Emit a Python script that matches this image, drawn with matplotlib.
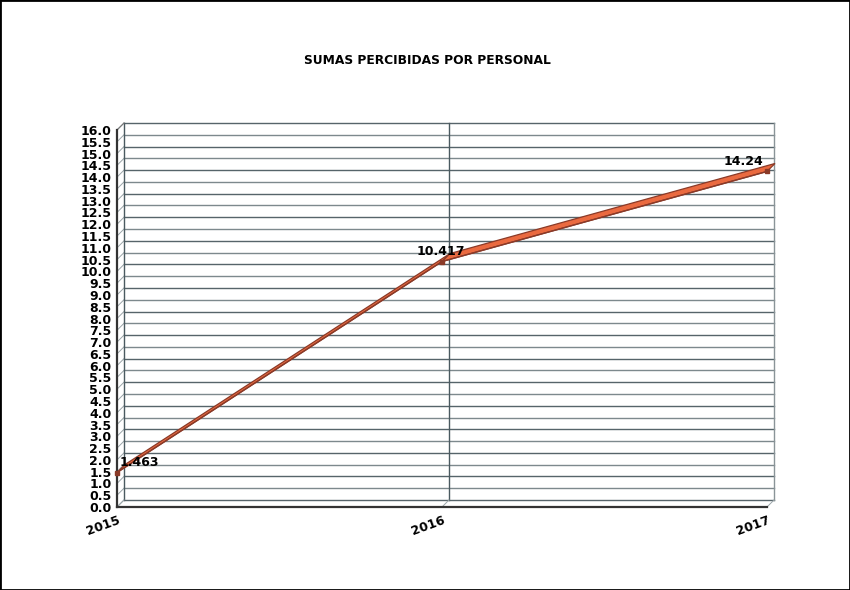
import matplotlib.pyplot as plt
from matplotlib.patches import Rectangle, Polygon

# data
years = [2015, 2016, 2017]
sumas = [1.463, 10.417, 14.24]
etiquetas = ['1.463', '10.417', '14.24']
yticks = [i * 0.5 for i in range(33)]

plt.rcParams['font.family'] = 'DejaVu Sans'
plt.rcParams['font.weight'] = 'bold'

fig = plt.figure(figsize=(8.5, 5.9), dpi=100)
fig.patches.append(Rectangle((0, 0), 1, 1, transform=fig.transFigure,
                             fill=False, ec='black', lw=2))

# front plane of the pseudo 3d box
ax = fig.add_axes([117 / 850, 83 / 590, 650 / 850, 377 / 590])
ax.set_xlim(2015, 2017)
ax.set_ylim(0, 16)
ax.set_facecolor('none')

# depth of the box, in data units (7 px)
dx = 7 / 650 * 2
dy = 7 / 377 * 16
wall = '#4a5a60'

# back wall grid
for i, v in enumerate(yticks):
    c = '#56646a' if i % 2 == 0 else '#7d898d'
    ax.plot([2015 + dx, 2017 + dx], [v + dy, v + dy], color=c, lw=1, clip_on=False, zorder=1)
    ax.plot([2015, 2015 + dx], [v, v + dy], color='#9aa4a8', lw=0.7, clip_on=False, zorder=1)
ax.plot([2015 + dx, 2015 + dx], [dy, 16 + dy], color=wall, lw=1, clip_on=False, zorder=1)
ax.plot([2017 + dx, 2017 + dx], [dy, 16 + dy], color='#8a9498', lw=1, clip_on=False, zorder=1)
ax.plot([2016 + dx, 2016 + dx], [dy, 16 + dy], color=wall, lw=1, clip_on=False, zorder=1)
for x in years:
    ax.plot([x, x + dx], [0, dy], color='#9aa4a8', lw=0.7, clip_on=False, zorder=1)
ax.plot([2015, 2015 + dx], [16, 16 + dy], color='#777777', lw=0.8, clip_on=False, zorder=1)

# line drawn as a ribbon
rd = 8 / 7
for i in range(len(years) - 1):
    x0, x1 = years[i], years[i + 1]
    y0, y1 = sumas[i], sumas[i + 1]
    pts = [(x0, y0), (x1, y1), (x1 + dx * rd, y1 + dy * rd), (x0 + dx * rd, y0 + dy * rd)]
    ax.add_patch(Polygon(pts, closed=True, fc='#ea6a40', ec='#8a3a28', lw=0.9,
                         clip_on=False, zorder=3))
ax.plot(years, sumas, color='#8a3a28', lw=1, marker='s', ms=3, clip_on=False, zorder=4)

# value labels
offs = [(2, 7.5), (-1, 7.5), (-3, 7)]
has = ['left', 'center', 'right']
for x, y, t, o, h in zip(years, sumas, etiquetas, offs, has):
    ax.annotate(t, (x, y), xytext=o, textcoords='offset points', ha=h, va='center',
                fontsize=9, fontweight='bold', color='black', zorder=5)

ax.set_yticks(yticks)
ax.set_yticklabels([f'{v:.1f}' for v in yticks], fontsize=9, fontweight='bold')
ax.set_xticks(years)
ax.set_xticklabels([str(y) for y in years], fontsize=9, fontweight='bold',
                   rotation=20, ha='right', va='top', rotation_mode='anchor')
ax.tick_params(axis='y', length=0, pad=4)
ax.tick_params(axis='x', length=0, pad=5)
for s in ['top', 'right']:
    ax.spines[s].set_visible(False)
for s in ['left', 'bottom']:
    ax.spines[s].set_color('#333333')
    ax.spines[s].set_linewidth(1.6)

fig.text(427 / 850, 1 - 60 / 590, 'SUMAS PERCIBIDAS POR PERSONAL', ha='center', va='center',
         fontsize=8.8, fontweight='bold')

fig.savefig('out.png', dpi=100)
